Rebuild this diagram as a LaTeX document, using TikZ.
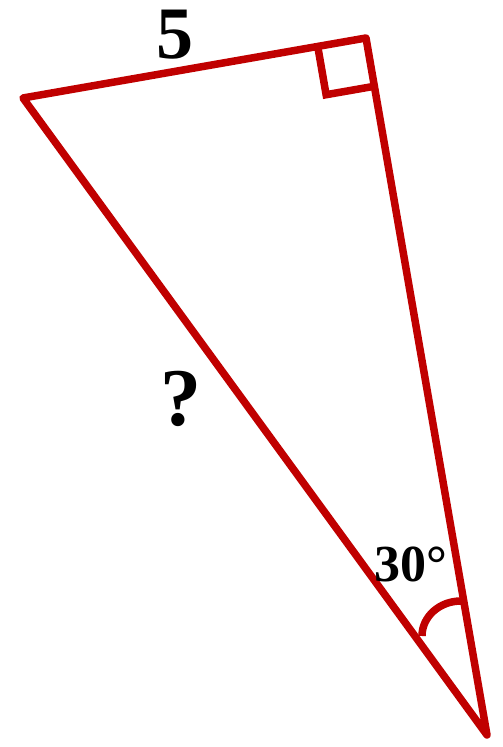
\documentclass[tikz,border=0pt]{standalone}
\usepackage{fontspec}
\setmainfont{Liberation Serif}
\usetikzlibrary{calc}
\definecolor{tred}{RGB}{192,0,0}
\begin{document}
\begin{tikzpicture}[x=1pt,y=1pt,
  edge/.style={draw=tred,line width=7.5pt,line join=round},
  lbl/.style={font=\bfseries\fontsize{74}{74}\selectfont,text=black,inner sep=0pt}]
\useasboundingbox (0,0) rectangle (503,747);
\coordinate (A) at (23,649);
\coordinate (B) at (366,709);
\coordinate (C) at (487,12);
\draw[edge] (A) -- (B) -- (C) -- cycle;
\coordinate (P) at ($(B)!49pt!(A)$);
\coordinate (Q) at ($(B)!49pt!(C)$);
\coordinate (R) at ($(P)+(Q)-(B)$);
\draw[edge,line join=miter] (P) -- (R) -- (Q);
\coordinate (O) at (461,111);
\draw[edge] ($(O)+(-39,0)$) arc[start angle=180,end angle=90,x radius=39,y radius=35];
\node[lbl] (five) at (175,712) {5};
\node[lbl,font=\bfseries\fontsize{82}{82}\selectfont] (q) at (181,348) {?};
\node[lbl,font=\bfseries\fontsize{52}{52}\selectfont] (ang) at (411,183) {30°};
\end{tikzpicture}
\end{document}
